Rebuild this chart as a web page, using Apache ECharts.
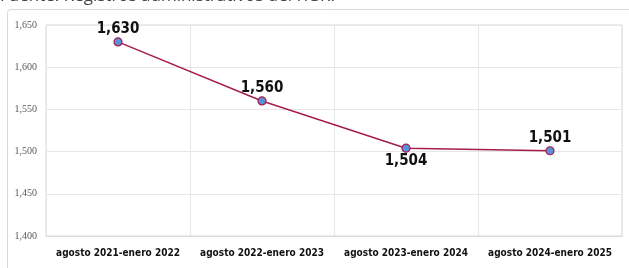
<!DOCTYPE html>
<html>
<head>
<meta charset="utf-8">
<script src="https://cdn.jsdelivr.net/npm/echarts@6/dist/echarts.min.js"></script>
<style>
  html, body { margin: 0; padding: 0; background: #fff; }
  #chart { width: 629px; height: 268px; }
</style>
</head>
<body>
<div id="chart"></div>
<script>
// periodos y total de registros
var periodos = [
  "agosto 2021-enero 2022",
  "agosto 2022-enero 2023",
  "agosto 2023-enero 2024",
  "agosto 2024-enero 2025"
];
var totales = [1630, 1560, 1504, 1501];
var posEtiqueta = ["top", "top", "bottom", "top"];

var narrow = "'Liberation Sans Narrow', 'DejaVu Sans Condensed', sans-serif";

var chart = echarts.init(document.getElementById("chart"));

chart.setOption({
  animation: false,
  backgroundColor: "#fff",
  graphic: [
    {
      type: "rect",
      shape: { x: 7.5, y: 9.5, width: 640, height: 280, r: 3 },
      style: { fill: "none", stroke: "#d9d9d9", lineWidth: 1 },
      z: -1
    },
    {
      type: "text",
      left: 0,
      top: -12,
      style: {
        text: "Fuente: Registros administrativos del ITSR.",
        font: "17px 'Open Sans', sans-serif",
        fill: "#444"
      }
    }
  ],
  grid: {
    left: 46,
    right: 7,
    top: 25,
    bottom: 32,
    show: true,
    borderColor: "#d9d9d9",
    borderWidth: 1
  },
  xAxis: {
    type: "category",
    data: periodos,
    boundaryGap: true,
    axisTick: { show: false },
    axisLine: { lineStyle: { color: "#d9d9d9" } },
    splitLine: { show: true, lineStyle: { color: "#e6e6e6" } },
    axisLabel: {
      interval: 0,
      margin: 12,
      color: "#111",
      fontSize: 10,
      fontWeight: "bold",
      fontFamily: narrow
    }
  },
  yAxis: {
    type: "value",
    min: 1400,
    max: 1650,
    interval: 50,
    axisLine: { show: false },
    axisTick: { show: false },
    splitLine: { lineStyle: { color: "#e6e6e6" } },
    axisLabel: {
      margin: 9,
      color: "#595959",
      fontSize: 10,
      fontFamily: "'Liberation Serif', serif",
      formatter: function (v) {
        return v.toLocaleString("en-US");
      }
    }
  },
  series: [
    {
      type: "line",
      data: totales.map(function (v, i) {
        return { value: v, label: { position: posEtiqueta[i] } };
      }),
      symbol: "circle",
      symbolSize: 8,
      lineStyle: { color: "#a61c4c", width: 1.5 },
      itemStyle: { color: "#5b8fd6", borderColor: "#a61c4c", borderWidth: 1.2 },
      label: {
        show: true,
        distance: 1,
        color: "#111",
        fontSize: 15,
        fontWeight: "bold",
        fontFamily: narrow,
        formatter: function (p) {
          return p.value.toLocaleString("en-US");
        }
      }
    }
  ]
});
</script>
</body>
</html>
